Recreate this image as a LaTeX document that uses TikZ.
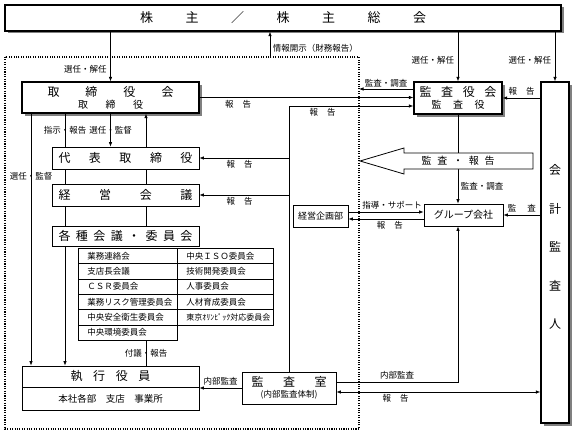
\documentclass[tikz,border=0pt]{standalone}
\usepackage{fontspec}
\setmainfont{Noto Sans CJK JP}
\usetikzlibrary{arrows.meta,shadows}
\newcommand{\spreadtext}[2]{\makebox[#1][s]{#2}}
\newcommand{\boxfont}{\fontsize{12pt}{13pt}\selectfont}
\tikzset
{
    mainbox/.style = {rectangle, draw=black, line width=1.3pt, fill=white, align=center, inner sep=0pt, font=\boxfont,
                      drop shadow={shadow xshift=2.5pt, shadow yshift=-2.5pt, fill=black!50, opacity=1}},
    plainbox/.style = {rectangle, draw=black, line width=0.8pt, fill=white, align=center, inner sep=0pt, font=\boxfont},
    cellbox/.style = {rectangle, draw=black, line width=0.8pt, inner sep=0pt, minimum height=15.33pt, anchor=north west,
                      font=\fontsize{8.5pt}{8.5pt}\selectfont},
    lbl/.style = {font=\fontsize{8.5pt}{8.5pt}\selectfont, inner sep=1.5pt},
    link/.style = {line width=0.7pt},
    arr/.style = {line width=0.7pt, -{Latex[length=4.5pt,width=3.5pt]}},
    biarr/.style = {line width=0.7pt, {Latex[length=4.5pt,width=3.5pt]}-{Latex[length=4.5pt,width=3.5pt]}}
}
\begin{document}
\begin{tikzpicture}[x=1pt, y=-1pt]
\useasboundingbox (0,0) rectangle (575,436);
% dotted frame
\coordinate (dotNW) at (5,57);
\coordinate (dotSE) at (359,429);
\draw[line width=1.1pt, dash pattern=on 1.1pt off 1.3pt] (dotNW) rectangle (dotSE);
% guide lines
\coordinate (xL) at (31,0);
\coordinate (xM) at (65,0);
\coordinate (xR) at (146,0);
\coordinate (rp) at (289,106);
\coordinate (disc) at (270,57);
% boxes
\node[mainbox, minimum width=556pt, minimum height=26pt, font=\fontsize{13pt}{13pt}\selectfont] (kabunushi) at (283,18)
    {\spreadtext{286pt}{株 主 ／ 株 主 総 会}};
\node[mainbox, minimum width=177pt, minimum height=31pt] (torishimari) at (110.5,97.5)
    {\spreadtext{126pt}{取 締 役 会}\\[-1pt]{\fontsize{10pt}{10pt}\selectfont\spreadtext{65pt}{取 締 役}}};
\node[mainbox, minimum width=88pt, minimum height=32pt] (kansayaku) at (458,98)
    {\spreadtext{77pt}{監 査 役 会}\\[-1pt]{\fontsize{10pt}{10pt}\selectfont\spreadtext{53pt}{監 査 役}}};
\node[mainbox, minimum width=28pt, minimum height=341pt] (kaikei) at (555,252.5) {};
\node[align=center, font=\fontsize{12pt}{38.5pt}\selectfont] (kaikeiname) at (555,247) {会\\計\\監\\査\\人};
\node[plainbox, minimum width=147pt, minimum height=22pt] (daihyo) at (125.5,158)
    {\spreadtext{134pt}{代 表 取 締 役}};
\node[plainbox, minimum width=147pt, minimum height=22pt] (keiei) at (125.5,195)
    {\spreadtext{134pt}{経 営 会 議}};
\node[plainbox, minimum width=147pt, minimum height=20pt] (kakushu) at (125.5,236)
    {\spreadtext{134pt}{各 種 会 議 ・ 委 員 会}};
\foreach \name [count=\i] in {業務連絡会, 支店長会議, ＣＳＲ委員会, 業務リスク管理委員会, 中央安全衛生委員会, 中央環境委員会}
    \node[cellbox] (L\i) at (78,{248+(\i-1)*15.33}) {\makebox[99pt][l]{\hspace{9pt}\name}};
\foreach \name [count=\i] in {中央ＩＳＯ委員会, 技術開発委員会, 人事委員会, 人材育成委員会, {\fontsize{8pt}{8pt}\selectfont 東京ｵﾘﾝﾋﾟｯｸ対応委員会}}
    \node[cellbox] (R\i) at (177,{248+(\i-1)*15.33}) {\makebox[96pt][l]{\hspace{9pt}\name}};
\node[plainbox, minimum width=177pt, minimum height=21pt] (shikko) at (110.5,376.5)
    {\spreadtext{80pt}{執 行 役 員}};
\node[plainbox, minimum width=177pt, minimum height=23pt, font=\fontsize{9.5pt}{9.5pt}\selectfont] (honsha) at (110.5,398.5)
    {本社各部　支店　事業所};
\node[plainbox, minimum width=94pt, minimum height=32pt] (kansashitsu) at (289,388)
    {\spreadtext{75pt}{監 査 室}\\[-2pt]{\fontsize{8.5pt}{8.5pt}\selectfont (内部監査体制)}};
\node[plainbox, minimum width=79pt, minimum height=22pt, font=\fontsize{10pt}{10pt}\selectfont] (group) at (463.5,215)
    {グループ会社};
\node[plainbox, minimum width=55pt, minimum height=22pt, font=\fontsize{9pt}{9pt}\selectfont] (kikaku) at (320.5,216)
    {経営企画部};
% from shareholders
\draw[arr] (kabunushi.south -| torishimari.north) -- (torishimari.north) node[lbl, pos=0.75, left=2pt] {選任・解任};
\draw[arr] (disc) -- (disc |- kabunushi.south) node[lbl, pos=0.35, right=1pt] {情報開示（財務報告）};
\draw[arr] (kabunushi.south -| kansayaku.north) -- (kansayaku.north) node[lbl, pos=0.57, left=2pt] {選任・解任};
\draw[arr] (kabunushi.south -| kaikei.north) -- (kaikei.north) node[lbl, pos=0.57, left=2pt] {選任・解任};
% board and executives
\draw[arr] (torishimari.south -| xL) -- (shikko.north -| xL) node[lbl, pos=0.25] {選任・監督};
\draw[link] (torishimari.south -| xM) -- (daihyo.north -| xM) node[lbl, midway] {指示・報告};
\draw[arr] (torishimari.south) -- (torishimari.south |- daihyo.north) node[lbl, midway] {選任・監督};
\draw[arr] (daihyo.north -| xR) -- (torishimari.south -| xR);
\draw[link] (daihyo.south -| xM) -- (keiei.north -| xM);
\draw[link] (daihyo.south -| xR) -- (keiei.north -| xR);
\draw[link] (keiei.south -| xM) -- (kakushu.north -| xM);
\draw[link] (keiei.south -| xR) -- (kakushu.north -| xR);
\draw[arr] (kakushu.south -| xM) -- (shikko.north -| xM);
\draw[link] (L6.south -| xR) -- (shikko.north -| xR) node[lbl, midway] {付議・報告};
% reports
\draw[arr] (torishimari.east) -- (torishimari.east -| kansayaku.west) node[lbl, pos=0.18, below=1pt] {\spreadtext{26pt}{報 告}};
\draw[arr] (kansashitsu.north) -- (rp) -- (rp -| kansayaku.west) node[lbl, pos=0.27, below=1pt] {\spreadtext{26pt}{報 告}};
\draw[arr] (daihyo.east -| rp) -- (daihyo.east) node[lbl, pos=0.55, below=1pt] {\spreadtext{26pt}{報 告}};
\draw[arr] (keiei.east -| rp) -- (keiei.east) node[lbl, pos=0.55, below=1pt] {\spreadtext{26pt}{報 告}};
\coordinate (ka1) at ([yshift=9pt]kansayaku.west);
\draw[arr] (ka1) -- (ka1 -| dotSE) node[lbl, midway, above=0pt] {監査・調査};
% audit board
\draw[arr] (kansayaku.south) -- (kansayaku.south |- group.north) node[lbl, pos=0.8, right=1pt] {監査・調査};
\draw[line width=0.8pt, fill=white] (533,153) -- (404,153) -- (404,148) -- (360,161) -- (404,174) -- (404,169) -- (533,169) -- cycle;
\node[font=\fontsize{10pt}{10pt}\selectfont] (kansahoukoku) at (458,161) {\spreadtext{73pt}{監 査 ・ 報 告}};
% accounting auditor
\draw[arr] (kaikei.west |- kansayaku.east) -- (kansayaku.east) node[lbl, midway, above=1pt] {\spreadtext{26pt}{報 告}};
\draw[arr] (kaikei.west |- group.east) -- (group.east) node[lbl, midway, above=1pt] {\spreadtext{28pt}{監 査}};
% planning dept
\coordinate (kk1) at ([yshift=4pt]kikaku.east);
\coordinate (kk2) at ([yshift=-3pt]kikaku.east);
\draw[arr] (kk1) -- (kk1 -| group.west) node[lbl, pos=0.58, above=1pt] {指導・サポート};
\draw[arr] (kk2 -| group.west) -- (kk2) node[lbl, pos=0.45, below=1pt] {\spreadtext{26pt}{報 告}};
% internal audit
\draw[arr] (kansashitsu.west) -- (kansashitsu.west -| honsha.east) node[lbl, midway, above=1pt] {内部監査};
\coordinate (ks1) at ([yshift=6pt]kansashitsu.east);
\coordinate (ks2) at ([yshift=-4pt]kansashitsu.east);
\draw[arr] (ks1) -| (kansayaku.south |- group.south) node[lbl, pos=0.25, above=1pt] {内部監査};
\draw[biarr] (ks2) -- (ks2 -| kaikei.west) node[lbl, pos=0.29, below=1pt] {\spreadtext{26pt}{報 告}};
\end{tikzpicture}
\end{document}
